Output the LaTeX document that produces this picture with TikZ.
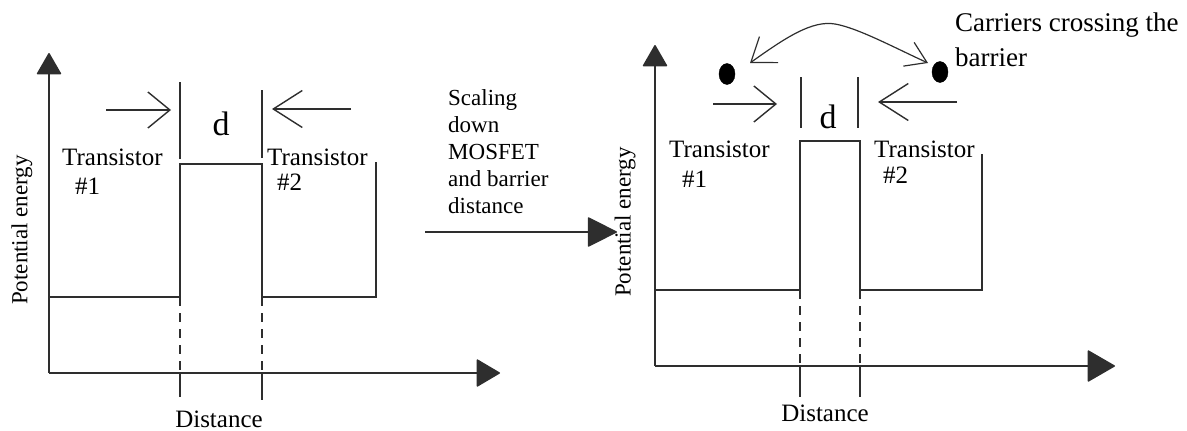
\documentclass[tikz,border=0pt]{standalone}
\usepackage{fontspec}
\setmainfont{Liberation Serif}
\usetikzlibrary{arrows.meta,shapes.geometric}
\tikzset{
  ln/.style={draw=black!82, line width=1.4pt},
  axis/.style={ln, -{Triangle[length=24pt,width=28pt,round]}},
  vaxis/.style={ln, -{Triangle[length=22pt,width=25pt,round]}},
  barb/.style={ln, -{Straight Barb[length=22pt,width=36pt]}},
  barbL/.style={ln, -{Straight Barb[length=29pt,width=37pt]}},
  dsh/.style={ln, dash pattern=on 9pt off 7pt},
  lbl/.style={inner sep=0pt, text=black, font=\fontsize{25}{27}\selectfont},
  dlbl/.style={inner sep=0pt, text=black, font=\fontsize{34}{36}\selectfont},
  carrier/.style={ellipse, fill=black, draw=black, minimum width=16pt, minimum height=21pt, inner sep=0pt},
}
\begin{document}
\begin{tikzpicture}[x=1pt,y=-1pt]
\path[use as bounding box] (0,0) rectangle (1187,431);

% ---------------- left panel ----------------
\coordinate (LO) at (49,373);
\coordinate (LYt) at (49,53);
\coordinate (LXt) at (500,373);
\draw[vaxis] (LO) -- (LYt);
\draw[axis] (LO) -- (LXt);
\coordinate (La) at (49,297);
\coordinate (Lb) at (180,297);
\coordinate (Lc) at (180,164);
\coordinate (Ld) at (262,164);
\coordinate (Le) at (262,297);
\coordinate (Lf) at (376,297);
\coordinate (Lg) at (376,162);
\draw[ln] (La) -- (Lb) -- (Lc) -- (Ld) -- (Le) -- (Lf) -- (Lg);
\draw[dsh] (Lb) -- (180,373);
\draw[dsh] (Le) -- (262,373);
\draw[ln] (180,373) -- (180,397);
\draw[ln] (262,373) -- (262,400);
\draw[ln] (180,82) -- (180,159);
\draw[ln] (262,90) -- (262,158);
\coordinate (LA1s) at (106,110);
\coordinate (LA1e) at (171,110);
\draw[barb] (LA1s) -- (LA1e);
\coordinate (LA2s) at (351,109);
\coordinate (LA2e) at (272,109);
\draw[barbL] (LA2s) -- (LA2e);
\node[dlbl, anchor=base] (Ld1) at (221,135) {d};
\node[lbl, anchor=base west] (LT1) at (62,165) {Transistor};
\node[lbl, anchor=base west] (LN1) at (75,194) {\#1};
\node[lbl, anchor=base west] (LT2) at (267,165) {Transistor};
\node[lbl, anchor=base west] (LN2) at (277,190) {\#2};
\node[lbl, anchor=base] (LDist) at (219,427) {Distance};
\node[lbl, rotate=90, font=\fontsize{23}{25}\selectfont] (LPE) at (22,230) {Potential energy};

% ---------------- middle ----------------
\node[lbl, anchor=north west, align=left, font=\fontsize{23}{27}\selectfont] (scal) at (448,89)
  {Scaling\\down\\MOSFET\\and barrier\\distance};
\coordinate (MAs) at (425,232);
\coordinate (MAe) at (617,232);
\draw[ln, -{Triangle[length=30pt,width=30pt,round]}] (MAs) -- (MAe);

% ---------------- right panel ----------------
\coordinate (RO) at (655,366);
\coordinate (RYt) at (655,45);
\coordinate (RXt) at (1115,366);
\draw[vaxis] (RO) -- (RYt);
\draw[ln, -{Triangle[length=28pt,width=32pt,round]}] (RO) -- (RXt);
\coordinate (Ra) at (655,290);
\coordinate (Rb) at (800,290);
\coordinate (Rc) at (800,141);
\coordinate (Rd) at (860,141);
\coordinate (Re) at (860,290);
\coordinate (Rf) at (982,290);
\coordinate (Rg) at (982,154);
\draw[ln] (Ra) -- (Rb) -- (Rc) -- (Rd) -- (Re) -- (Rf) -- (Rg);
\draw[dsh] (Rb) -- (800,366);
\draw[dsh] (Re) -- (860,366);
\draw[ln] (800,366) -- (800,397);
\draw[ln] (860,366) -- (860,397);
\draw[ln] (801,77) -- (801,128);
\draw[ln] (858,77) -- (858,128);
\coordinate (RA1s) at (713,104);
\coordinate (RA1e) at (777,104);
\draw[barb] (RA1s) -- (RA1e);
\coordinate (RA2s) at (957,102);
\coordinate (RA2e) at (878,102);
\draw[barbL] (RA2s) -- (RA2e);
\node[dlbl, anchor=base] (Rd1) at (828,128) {d};
\node[lbl, anchor=base west] (RT1) at (669,157) {Transistor};
\node[lbl, anchor=base west] (RN1) at (682,187) {\#1};
\node[lbl, anchor=base west] (RT2) at (874,157) {Transistor};
\node[lbl, anchor=base west] (RN2) at (883,183) {\#2};
\node[lbl, anchor=base] (RDist) at (825,421) {Distance};
\node[lbl, rotate=90, font=\fontsize{23}{25}\selectfont] (RPE) at (625,222) {Potential energy};

% carriers
\node[carrier] (dotL) at (727,74) {};
\node[carrier] (dotR) at (940,72) {};
\coordinate (CL) at (750,63);
\coordinate (CR) at (928,63);
\draw[ln, line width=1.2pt, {Straight Barb[length=22pt,width=32pt]}-{Straight Barb[length=20pt,width=26pt]}]
  (CL) .. controls (785,38) and (812,20) .. (835,24) .. controls (858,28) and (895,48) .. (CR);
\node[lbl, anchor=north west, align=left, font=\fontsize{27}{35}\selectfont] (carr) at (955,13)
  {Carriers crossing the\\barrier};
\end{tikzpicture}
\end{document}
